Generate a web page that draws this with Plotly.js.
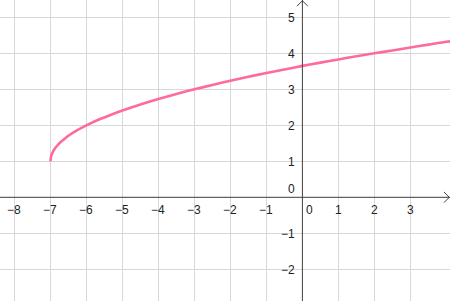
<!DOCTYPE html>
<html>
<head>
<meta charset="utf-8">
<script src="https://cdn.plot.ly/plotly-3.0.1.min.js"></script>
<style>html,body{margin:0;padding:0;background:#fff;}#chart{width:450px;height:301px;}</style>
</head>
<body>
<div id="chart"></div>
<script>
// curve points
const curveX = [-7, -6.98, -6.95, -6.9, -6.85, -6.8, -6.7, -6.6, -6.5, -6.3, -6.0, -5.7, -5.4, -5.0, -4.5, -4.0, -3.5, -3.0, -2.5, -2.0, -1.5, -1.0, -0.5, 0, 0.5, 1, 1.5, 2, 2.5, 3, 3.5, 4, 4.1];
const curveY = [1.0, 1.14, 1.22, 1.32, 1.39, 1.45, 1.55, 1.63, 1.71, 1.84, 2.0, 2.14, 2.26, 2.41, 2.58, 2.73, 2.87, 3.0, 3.12, 3.24, 3.35, 3.45, 3.55, 3.65, 3.74, 3.83, 3.92, 4.0, 4.08, 4.16, 4.24, 4.32, 4.33];
const xTicks = [-8, -7, -6, -5, -4, -3, -2, -1, 0, 1, 2, 3];
const yTicks = [-2, -1, 0, 1, 2, 3, 4, 5];
const xRange = [-8.40, 4.10];
const yRange = [-2.88, 5.48];

const font = {family: 'Liberation Sans, Arial, sans-serif', size: 12, color: '#222'};
const ann = [];
xTicks.forEach(v => {
  if (v === 0) {
    ann.push({x: v, y: 0, xref: 'x', yref: 'y', text: String(v), showarrow: false, font,
      xanchor: 'left', yanchor: 'top', xshift: 2, yshift: -4});
  } else {
    ann.push({x: v, y: 0, xref: 'x', yref: 'y', text: (v < 0 ? '\u2212' + Math.abs(v) : String(v)), showarrow: false, font,
      xanchor: 'center', yanchor: 'top', yshift: -4});
  }
});
yTicks.forEach(v => {
  if (v === 0) {
    ann.push({x: 0, y: v, xref: 'x', yref: 'y', text: '0', showarrow: false, font,
      xanchor: 'right', yanchor: 'bottom', xshift: -5, yshift: -1});
  } else {
    ann.push({x: 0, y: v, xref: 'x', yref: 'y', text: (v < 0 ? '\u2212' + Math.abs(v) : String(v)), showarrow: false, font,
      xanchor: 'right', yanchor: 'middle', xshift: -5, yshift: -1});
  }
});

const axisColor = '#444';
const shapes = [
  {type: 'line', xref: 'x', yref: 'y', x0: xRange[0], x1: xRange[1], y0: 0, y1: 0, line: {color: axisColor, width: 1}},
  {type: 'line', xref: 'x', yref: 'y', x0: 0, x1: 0, y0: yRange[0], y1: yRange[1], line: {color: axisColor, width: 1}},
  // arrow heads
  {type: 'path', xref: 'x', yref: 'y', path: `M ${xRange[1]-0.17},0.15 L ${xRange[1]-0.02},0 L ${xRange[1]-0.17},-0.15`, line: {color: axisColor, width: 1}},
  {type: 'path', xref: 'x', yref: 'y', path: `M -0.15,${yRange[1]-0.17} L 0,${yRange[1]-0.02} L 0.15,${yRange[1]-0.17}`, line: {color: axisColor, width: 1}}
];

const trace = {x: curveX, y: curveY, type: 'scatter', mode: 'lines',
  line: {color: '#ff6a9c', width: 2.6, shape: 'spline', smoothing: 0.6}, hoverinfo: 'skip'};

const layout = {
  width: 450, height: 301,
  margin: {l: 0, r: 0, t: 0, b: 0},
  paper_bgcolor: '#fff', plot_bgcolor: '#fff',
  showlegend: false,
  xaxis: {range: xRange, tickvals: xTicks, showticklabels: false, showgrid: true, gridcolor: '#d8d8d8', gridwidth: 1, zeroline: false, showline: false, ticks: ''},
  yaxis: {range: yRange, tickvals: yTicks, showticklabels: false, showgrid: true, gridcolor: '#d8d8d8', gridwidth: 1, zeroline: false, showline: false, ticks: ''},
  annotations: ann,
  shapes: shapes
};
Plotly.newPlot('chart', [trace], layout, {staticPlot: true, displayModeBar: false});
</script>
</body>
</html>
